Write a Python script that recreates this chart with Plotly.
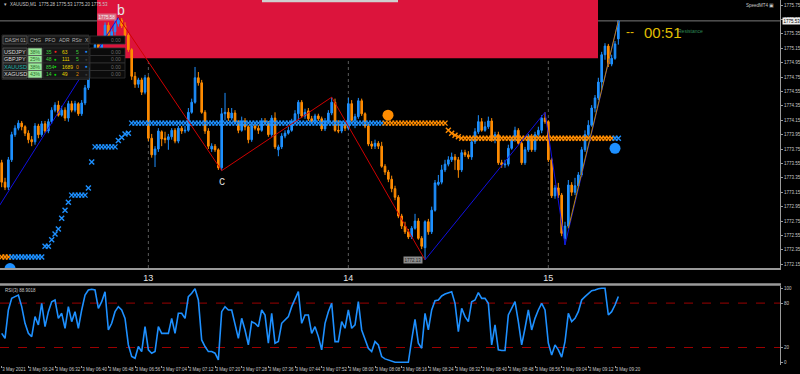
import plotly.graph_objects as go

W, H = 800, 374

# ---------------- data ----------------
bars = list(range(186))

open_ = [
1773.56,1773.29,1773.22,1773.60,1773.95,1774.04,1774.11,1774.06,1773.97,1773.88,
1773.85,1774.07,1773.95,1774.10,1774.00,1774.13,1774.29,1774.36,1774.22,1774.29,
1774.18,1774.38,1774.29,1774.38,1774.24,1774.39,1774.60,1774.88,1775.10,1775.20,
1775.06,1775.26,1775.47,1775.26,1775.38,1775.49,1775.54,1775.46,1775.33,1775.13,
1774.76,1774.65,1774.71,1774.54,1774.74,1773.90,1773.67,1773.75,1773.99,1773.90,
1773.88,1773.92,1774.01,1773.86,1774.04,1774.00,1774.01,1774.26,1774.40,1774.74,
1774.67,1774.26,1774.00,1773.75,1773.79,1773.74,1773.49,1774.24,1774.26,1774.18,
1774.25,1774.13,1774.01,1774.14,1774.06,1773.88,1774.07,1774.04,1774.01,1774.14,
1774.11,1773.95,1774.18,1773.74,1773.78,1773.93,1773.97,1774.01,1774.13,1774.24,
1774.40,1774.21,1774.28,1774.17,1774.14,1774.21,1774.17,1774.03,1774.14,1774.25,
1774.40,1774.01,1774.00,1774.10,1774.04,1774.38,1774.15,1774.20,1774.42,1774.24,
1774.07,1773.82,1773.79,1773.83,1773.79,1773.51,1773.43,1773.33,1773.20,1773.08,
1772.82,1772.68,1772.60,1772.53,1772.65,1772.75,1772.51,1772.38,1772.74,1772.60,
1772.90,1773.26,1773.29,1773.46,1773.54,1773.60,1773.64,1773.60,1773.46,1773.70,
1773.67,1773.64,1773.85,1773.99,1774.13,1774.01,1774.06,1774.14,1773.88,1773.95,
1773.56,1773.53,1773.54,1773.76,1773.88,1774.01,1773.83,1773.56,1773.74,1773.92,
1773.74,1773.95,1774.01,1774.18,1774.13,1773.60,1773.10,1773.21,1773.11,1772.51,
1772.68,1773.25,1773.15,1773.24,1773.39,1773.74,1773.95,1774.08,1774.32,1774.46,
1774.68,1775.06,1775.18,1774.93,1775.01,1775.28]

high = [
1773.60,1773.35,1773.64,1773.99,1774.08,1774.15,1774.14,1774.08,1774.01,1773.93,
1774.11,1774.10,1774.14,1774.14,1774.17,1774.33,1774.40,1774.42,1774.35,1774.33,
1774.42,1774.42,1774.42,1774.40,1774.43,1774.64,1774.93,1775.15,1775.26,1775.24,
1775.32,1775.51,1775.51,1775.43,1775.54,1775.58,1775.57,1775.51,1775.36,1775.15,
1774.82,1774.74,1774.74,1774.78,1774.76,1773.96,1773.79,1774.04,1774.01,1773.99,
1773.96,1774.04,1774.04,1774.07,1774.07,1774.07,1774.32,1774.45,1774.89,1774.82,
1774.71,1774.29,1774.04,1773.83,1773.82,1773.76,1774.32,1774.53,1774.32,1774.32,
1774.29,1774.15,1774.20,1774.18,1774.08,1774.11,1774.11,1774.08,1774.18,1774.18,
1774.14,1774.22,1774.26,1773.81,1773.97,1774.01,1774.06,1774.17,1774.29,1774.43,
1774.43,1774.31,1774.32,1774.21,1774.24,1774.24,1774.20,1774.18,1774.29,1774.47,
1774.45,1774.15,1774.14,1774.13,1774.46,1774.43,1774.24,1774.46,1774.45,1774.26,
1774.10,1773.86,1773.88,1773.86,1773.85,1773.54,1773.46,1773.38,1773.24,1773.11,
1772.85,1772.74,1772.64,1772.68,1772.85,1772.79,1772.54,1772.76,1772.78,1772.95,
1773.32,1773.39,1773.53,1773.60,1773.65,1773.70,1773.68,1773.64,1773.74,1773.74,
1773.72,1773.90,1774.04,1774.22,1774.18,1774.13,1774.20,1774.18,1773.99,1773.99,
1773.60,1773.60,1773.81,1773.92,1774.06,1774.04,1773.86,1773.78,1773.96,1773.96,
1773.99,1774.06,1774.22,1774.26,1774.15,1773.63,1773.25,1773.28,1773.14,1772.74,
1773.32,1773.29,1773.35,1773.43,1773.78,1774.01,1774.15,1774.36,1774.50,1774.74,
1775.10,1775.22,1775.21,1775.06,1775.25,1775.53]

low = [
1773.22,1773.18,1773.18,1773.57,1773.92,1774.01,1774.01,1773.93,1773.83,1773.79,
1773.81,1773.90,1773.92,1773.97,1773.97,1774.10,1774.26,1774.20,1774.20,1774.14,
1774.13,1774.26,1774.26,1774.21,1774.21,1774.36,1774.57,1774.85,1775.06,1775.01,
1775.03,1775.24,1775.22,1775.24,1775.33,1775.45,1775.43,1775.31,1775.10,1774.71,
1774.60,1774.60,1774.50,1774.51,1773.86,1773.63,1773.50,1773.71,1773.79,1773.83,
1773.74,1773.88,1773.83,1773.83,1773.96,1773.97,1773.99,1774.24,1774.38,1774.63,
1774.24,1773.96,1773.75,1773.71,1773.71,1773.46,1773.45,1774.15,1774.14,1774.15,
1774.10,1773.97,1773.99,1774.01,1773.83,1773.85,1774.01,1773.96,1773.99,1774.08,
1773.92,1773.92,1773.75,1773.65,1773.75,1773.90,1773.95,1773.99,1774.10,1774.14,
1774.18,1774.17,1774.14,1774.10,1774.11,1774.14,1774.00,1774.00,1774.11,1774.22,
1773.99,1773.97,1773.97,1774.00,1774.01,1774.13,1774.04,1774.17,1774.21,1774.04,
1773.79,1773.75,1773.75,1773.75,1773.49,1773.39,1773.29,1773.15,1773.04,1772.79,
1772.64,1772.57,1772.50,1772.50,1772.63,1772.49,1772.36,1772.21,1772.56,1772.57,
1772.88,1773.24,1773.26,1773.43,1773.51,1773.57,1773.46,1773.35,1773.43,1773.64,
1773.61,1773.60,1773.82,1773.96,1773.99,1773.99,1774.03,1773.85,1773.83,1773.53,
1773.49,1773.49,1773.51,1773.74,1773.85,1773.81,1773.53,1773.53,1773.71,1773.71,
1773.71,1773.92,1773.97,1774.10,1773.57,1773.07,1773.06,1773.07,1772.54,1772.42,
1772.65,1773.10,1773.11,1773.21,1773.36,1773.71,1773.92,1774.06,1774.26,1774.43,
1774.57,1774.99,1774.89,1774.90,1774.99,1775.20]

close = [
1773.29,1773.22,1773.60,1773.95,1774.04,1774.11,1774.06,1773.97,1773.88,1773.85,
1774.07,1773.95,1774.10,1774.00,1774.13,1774.29,1774.36,1774.22,1774.29,1774.18,
1774.38,1774.29,1774.38,1774.24,1774.39,1774.60,1774.88,1775.10,1775.20,1775.06,
1775.26,1775.47,1775.26,1775.38,1775.49,1775.54,1775.46,1775.33,1775.13,1774.76,
1774.65,1774.71,1774.54,1774.74,1773.90,1773.67,1773.75,1774.00,1773.89,1773.88,
1773.92,1774.01,1773.86,1774.04,1774.00,1774.01,1774.26,1774.40,1774.74,1774.67,
1774.26,1774.00,1773.79,1773.79,1773.74,1773.49,1774.24,1774.26,1774.18,1774.25,
1774.13,1774.01,1774.14,1774.06,1773.88,1774.07,1774.04,1774.01,1774.14,1774.11,
1773.95,1774.18,1773.78,1773.78,1773.93,1773.97,1774.01,1774.13,1774.24,1774.40,
1774.21,1774.26,1774.17,1774.14,1774.21,1774.17,1774.03,1774.14,1774.25,1774.40,
1774.01,1774.00,1774.10,1774.04,1774.38,1774.15,1774.20,1774.42,1774.24,1774.07,
1773.82,1773.79,1773.83,1773.79,1773.51,1773.43,1773.33,1773.20,1773.08,1772.82,
1772.68,1772.60,1772.53,1772.65,1772.75,1772.51,1772.40,1772.74,1772.60,1772.90,
1773.28,1773.29,1773.46,1773.54,1773.60,1773.64,1773.60,1773.46,1773.70,1773.67,
1773.64,1773.85,1773.99,1774.13,1774.01,1774.06,1774.14,1773.88,1773.95,1773.56,
1773.53,1773.54,1773.76,1773.88,1774.01,1773.83,1773.56,1773.74,1773.92,1773.74,
1773.95,1774.01,1774.18,1774.13,1773.60,1773.10,1773.21,1773.11,1772.58,1772.68,
1773.25,1773.15,1773.24,1773.39,1773.74,1773.95,1774.08,1774.32,1774.46,1774.68,
1775.06,1775.18,1774.93,1775.01,1775.21,1775.53]

rsi = [
39.1,32.4,70.7,86.4,88.7,90.9,75.2,52.7,39.1,34.7,
61.7,50.5,79.7,48.2,68.4,81.9,84.2,59.4,66.2,46.0,
75.2,54.9,68.4,46.0,70.7,90.9,97.7,98.6,97.7,72.9,
81.9,95.4,43.7,52.7,68.4,75.2,70.7,59.4,23.5,7.8,
5.5,21.3,14.5,48.2,16.8,12.3,14.5,48.2,39.1,39.1,
39.1,59.4,39.1,66.2,66.2,59.4,88.7,93.2,99.5,84.2,
30.2,21.3,14.5,14.5,12.3,3.3,68.4,75.2,70.7,70.7,
52.7,32.4,59.4,43.7,23.5,54.9,52.7,48.2,70.7,63.9,
25.8,66.2,25.8,28.0,52.7,57.2,61.7,75.2,84.2,95.4,
52.7,63.9,63.9,39.1,48.2,34.7,16.8,52.7,68.4,79.7,
28.0,28.0,54.9,46.0,70.7,46.0,50.5,81.9,43.7,30.2,
19.0,14.5,28.0,23.5,7.8,4.6,3.3,1.0,0.0,0.0,
0.0,0.0,0.0,30.2,58.1,25.8,19.0,66.2,43.7,70.7,
83.3,84.2,89.6,92.2,94.1,95.4,79.7,41.5,72.9,61.7,
54.9,81.9,84.2,94.1,86.4,86.4,79.7,23.5,50.5,16.8,
15.9,15.9,63.9,72.9,81.9,54.9,23.5,46.0,70.7,43.7,
59.4,70.7,79.7,70.7,25.8,9.9,23.5,16.8,6.9,28.0,
66.2,54.9,59.4,68.4,84.2,88.7,93.2,96.8,97.7,99.5,
100.0,100.0,63.9,68.4,77.4,88.9]

# trailing-stop style indicator: (number of bars, level, direction +1 up / -1 down)
trend_runs = [(3, 1772.25, -1), (10, 1772.25, 1), (2, 1772.40, 1), (1, 1772.49, 1),
              (1, 1772.57, 1), (1, 1772.64, 1), (1, 1772.79, 1), (1, 1772.90, 1),
              (1, 1773.01, 1), (5, 1773.11, 1), (1, 1773.21, 1), (1, 1773.57, 1),
              (7, 1773.78, 1), (1, 1773.87, 1), (1, 1773.91, 1), (1, 1773.96, 1),
              (1, 1773.97, 1), (76, 1774.11, 1), (19, 1774.11, -1), (1, 1774.01, -1),
              (1, 1773.97, -1), (1, 1773.94, -1), (1, 1773.92, -1), (46, 1773.90, -1),
              (2, 1773.90, 1)]

zz_up1_bar = [-10, 35]
zz_up1_px = [1772.28, 1775.58]
zz_red_bar = [35, 66, 99, 127]
zz_red_px = [1775.58, 1773.45, 1774.47, 1772.21]
zz_blue_bar = [127, 163, 169, 185]
zz_blue_px = [1772.21, 1774.26, 1772.42, 1775.53]
tl_bar = [170, 185]
tl_px = [1772.65, 1775.53]

dots_bar = [115.9, 184, 2.5]
dots_px = [1774.22, 1773.76, 1772.09]
dots_col = ["#FF8C00", "#1E90FF", "#1E90FF"]

zone_bar = [28.6, 178.9]
zone_px = [1775.01, 1776.50]

hour_bars = [44, 104, 164]
hour_labels = ["13", "14", "15"]

price_ticks = [1772.15, 1772.35, 1772.55, 1772.75, 1772.95, 1773.15, 1773.35, 1773.55,
               1773.75, 1773.95, 1774.15, 1774.35, 1774.55, 1774.75, 1774.95, 1775.15,
               1775.35, 1775.55, 1775.75]

time_bars = [0, 8, 16, 24, 32, 40, 48, 56, 64, 72, 80, 88, 96, 104, 112, 120, 128,
             136, 144, 152, 160, 168, 176, 184]
time_labels = ["3 May 2021", "3 May 06:24", "3 May 06:32", "3 May 06:40", "3 May 06:48",
               "3 May 06:56", "3 May 07:04", "3 May 07:12", "3 May 07:20", "3 May 07:28",
               "3 May 07:36", "3 May 07:44", "3 May 07:52", "3 May 08:00", "3 May 08:08",
               "3 May 08:16", "3 May 08:24", "3 May 08:32", "3 May 08:40", "3 May 08:48",
               "3 May 08:56", "3 May 09:04", "3 May 09:12", "3 May 09:20"]

rsi_levels = [80, 20]
rsi_ticks = [0, 20, 80, 100]

dash_symbols = ["USDJPY", "GBPJPY", "XAUUSD", "XAGUSD"]
dash_chg = ["38%", "25%", "38%", "43%"]
dash_pfo = ["35", "48", "854", "14"]
dash_pfo_dot = ["#FF2020", "#00DD00", "#00DD00", "#00DD00"]
dash_adr = ["63", "111", "1689", "49"]
dash_rstr = ["5", "5", "0", "2"]
dash_rstr_col = ["#3CCB3C", "#3CCB3C", "#E08A00", "#E08A00"]
dash_dot2 = ["#1E90FF", "#3a3a3a", "#1E90FF", "#3a3a3a"]
dash_name_col = ["#D8D8D8", "#D8D8D8", "#20B2AA", "#D8D8D8"]
dash_headers = ["CHG", "PFO", "ADR", "RStr", "X"]

assert all(len(a) == 186 for a in (open_, high, low, close, rsi))

UP, DN = "#1E90FF", "#FF8C00"
FONT = "Liberation Sans"

trend_val, trend_col = [], []
for n, v, d in trend_runs:
    trend_val += [v] * n
    trend_col += [UP if d > 0 else DN] * n


def px(x):
    return x / W


def py(y):
    return 1 - y / H


main_dom = [py(268), 1.0]
rsi_dom = [py(365), py(286)]
xr = [-0.51, 233.5]

fig = go.Figure()

fig.add_trace(go.Candlestick(
    x=bars, open=open_, high=high, low=low, close=close,
    increasing=dict(line=dict(color=UP, width=1), fillcolor=UP),
    decreasing=dict(line=dict(color=DN, width=1), fillcolor=DN),
    whiskerwidth=0, xaxis="x", yaxis="y", showlegend=False, hoverinfo="skip"))

fig.add_trace(go.Scatter(
    x=bars, y=trend_val, mode="markers", xaxis="x", yaxis="y", showlegend=False,
    marker=dict(symbol="x-thin", size=5, color=trend_col,
                line=dict(width=1.4, color=trend_col)), hoverinfo="skip"))

fig.add_trace(go.Scatter(x=zz_up1_bar, y=zz_up1_px, mode="lines", line=dict(color="#1010E0", width=1),
                         xaxis="x", yaxis="y", showlegend=False, hoverinfo="skip"))
fig.add_trace(go.Scatter(x=zz_red_bar, y=zz_red_px, mode="lines", line=dict(color="#D00000", width=1),
                         xaxis="x", yaxis="y", showlegend=False, hoverinfo="skip"))
fig.add_trace(go.Scatter(x=zz_blue_bar, y=zz_blue_px, mode="lines", line=dict(color="#1010E0", width=1),
                         xaxis="x", yaxis="y", showlegend=False, hoverinfo="skip"))
fig.add_trace(go.Scatter(x=tl_bar, y=tl_px, mode="lines", line=dict(color="#B8860B", width=1),
                         xaxis="x", yaxis="y", showlegend=False, hoverinfo="skip"))

fig.add_trace(go.Scatter(x=dots_bar, y=dots_px, mode="markers", xaxis="x", yaxis="y", showlegend=False,
                         marker=dict(size=11, color=dots_col), hoverinfo="skip", cliponaxis=True))

fig.add_trace(go.Scatter(x=bars, y=rsi, mode="lines", line=dict(color="#1E90FF", width=1.6),
                         xaxis="x2", yaxis="y2", showlegend=False, hoverinfo="skip"))

shapes = []
# resistance zone
shapes.append(dict(type="rect", xref="x", yref="y", x0=zone_bar[0], x1=zone_bar[1],
                   y0=zone_px[0], y1=zone_px[1], fillcolor="#DC143C", line=dict(width=0), layer="below"))
# hour separators
for b in hour_bars:
    shapes.append(dict(type="line", xref="x", yref="paper", x0=b, x1=b, y0=main_dom[0], y1=1,
                       line=dict(color="#5a5a5a", width=1, dash="dot"), layer="below"))
# current price line
shapes.append(dict(type="line", xref="paper", yref="y", x0=0, x1=px(780), y0=close[-1], y1=close[-1],
                   line=dict(color="#7a7a7a", width=1), layer="below"))
# rsi levels
for lv in rsi_levels:
    shapes.append(dict(type="line", xref="paper", yref="y2", x0=0, x1=px(780), y0=lv, y1=lv,
                       line=dict(color="#9B0000", width=1, dash="dash"), layer="below"))
# panel separator
shapes.append(dict(type="line", xref="paper", yref="paper", x0=0, x1=px(781), y0=py(284.5), y1=py(284.5),
                   line=dict(color="#9a9a9a", width=2.5)))
# top scroll bar
shapes.append(dict(type="rect", xref="paper", yref="paper", x0=px(262), x1=px(398), y0=py(2.2), y1=1,
                   fillcolor="#cfcfcf", line=dict(width=0)))

# dashboard
def cell(x0, x1, y0, y1, fill, border):
    shapes.append(dict(type="rect", xref="paper", yref="paper", x0=px(x0), x1=px(x1), y0=py(y1), y1=py(y0),
                       fillcolor=fill, line=dict(color=border, width=0.8), layer="above"))

cell(2, 89, 35, 79.5, "#161616", "#2c2c2c")
cell(3, 27, 36, 44, "#1c1c1c", "#555555")
cell(28, 89, 36, 44, "#161616", "#3a3a3a")
row_y = [(48, 55.5), (55.5, 63), (63, 70.5), (70.5, 78)]
for (y0, y1) in row_y:
    cell(3, 27, y0, y1, "#1e1e1e", "#555555")
    cell(28, 42, y0, y1, "#98E898", "#555555")
    cell(43, 89, y0, y1, "#161616", "#2c2c2c")
cell(90, 125, 36, 44, "#0b0b0b", "#333333")
for (y0, y1) in row_y:
    cell(90, 125, y0, y1, "#0b0b0b", "#333333")

ann = []


def txt(x, y, s, size, color, xanchor="center", yanchor="middle", xref="paper", yref="paper", **kw):
    d = dict(x=x, y=y, xref=xref, yref=yref, text=s, showarrow=False, xanchor=xanchor, yanchor=yanchor,
             font=dict(size=size, color=color, family=FONT))
    d.update(kw)
    ann.append(d)


txt(px(15), py(40), "DASH 01", 5, "#B0B0B0")
for hx, h in zip([35, 50, 64, 77, 86.5], dash_headers):
    txt(px(hx), py(40), h, 5, "#B0B0B0")
txt(px(123), py(40), "0.00", 5, "#6a6a6a", xanchor="right")
for i, (y0, y1) in enumerate(row_y):
    yc = py((y0 + y1) / 2)
    txt(px(15), yc, dash_symbols[i], 5.5, dash_name_col[i])
    txt(px(35), yc, dash_chg[i], 5, "#2a6a2a")
    txt(px(44), yc, dash_pfo[i], 5, "#3CCB3C", xanchor="left")
    txt(px(55.5), yc, "●", 4.5, dash_pfo_dot[i])
    txt(px(60), yc, dash_adr[i], 5, "#E6D200", xanchor="left")
    txt(px(77), yc, dash_rstr[i], 5, dash_rstr_col[i])
    txt(px(86.5), yc, "●", 4.5, dash_dot2[i])
    txt(px(123), yc, "0.00", 5, "#6a6a6a", xanchor="right")

# chart texts
txt(px(2), py(4), "▾", 5, "#C0C0C0", xanchor="left")
txt(px(8), py(4), "XAUUSD,M1  %.2f %.2f %.2f %.2f" % (open_[-1], high[-1], low[-1], close[-1]),
    4.5, "#C8C8C8", xanchor="left")
txt(px(776), py(5), "SpeedMT4 ▣", 4.5, "#C8C8C8", xanchor="right")
txt(35, high[35], "b", 14, "#E6E6E6", xref="x", yref="y", yanchor="bottom", xshift=3, yshift=-3)
txt(66, low[66], "c", 12, "#CFCFCF", xref="x", yref="y", yanchor="top", yshift=-1)
txt(35, high[35], "%.2f" % high[35], 4.5, "#F2F2F2", xref="x", yref="y", xanchor="right",
    bgcolor="rgba(215,215,215,0.45)", borderpad=0.5, xshift=-1)
txt(127, low[127], "1772.13", 4.5, "#222222", xref="x", yref="y", xanchor="right",
    bgcolor="#8c8c8c", borderpad=0.5, xshift=-2)
txt(px(690), py(31), "Resistance", 5, "#2E8B57")
txt(px(630), py(32), "--", 12, "#E0BE00")
txt(px(663), py(32.5), "00:51", 15, "#E0BE00")
txt(px(782), close[-1], "%.2f" % close[-1], 4.5, "#000000", xanchor="left", yref="y",
    bgcolor="#EDEDED", borderpad=0.5)
txt(px(3), py(290), "RSI(3) %.4f" % 88.9018, 4.5, "#C8C8C8", xanchor="left")

fig.update_layout(
    width=W, height=H, margin=dict(l=0, r=0, t=0, b=0),
    paper_bgcolor="#000000", plot_bgcolor="#000000",
    font=dict(family=FONT, color="#C8C8C8"),
    shapes=shapes, annotations=ann, showlegend=False,
    xaxis=dict(domain=[0, px(780)], range=xr, anchor="y", showgrid=False, zeroline=False,
               rangeslider=dict(visible=False), tickvals=hour_bars, ticktext=hour_labels,
               tickfont=dict(size=9, color="#E6E6E6", family=FONT), ticks="",
               showline=True, linecolor="#9a9a9a", linewidth=2, fixedrange=True),
    yaxis=dict(domain=main_dom, range=[1775.82 - 268 / 72, 1775.82], side="right", anchor="x",
               showgrid=False, zeroline=False, tickvals=price_ticks,
               ticktext=["%.2f" % v for v in price_ticks],
               tickfont=dict(size=4.5, color="#C8C8C8", family=FONT), ticks="outside", ticklen=2,
               tickcolor="#9a9a9a", showline=True, linecolor="#9a9a9a", linewidth=1),
    xaxis2=dict(domain=[0, px(780)], range=xr, anchor="y2", showgrid=False, zeroline=False,
                tickvals=time_bars, ticktext=time_labels, ticklabelposition="outside right",
                tickangle=0,
                tickfont=dict(size=4.5, color="#C8C8C8", family=FONT), ticks="outside", ticklen=2,
                tickcolor="#9a9a9a", showline=False),
    yaxis2=dict(domain=rsi_dom, range=[-3.65, 103.1], side="right", anchor="x2", showgrid=False,
                zeroline=False, tickvals=rsi_ticks, ticktext=[str(v) for v in rsi_ticks],
                tickfont=dict(size=4.5, color="#C8C8C8", family=FONT), ticks="outside", ticklen=2,
                tickcolor="#9a9a9a", showline=True, linecolor="#9a9a9a", linewidth=1),
)

fig.write_html("out.html", config={"displayModeBar": False},
               post_script="document.body.style.margin='0';document.body.style.overflow='hidden';")
